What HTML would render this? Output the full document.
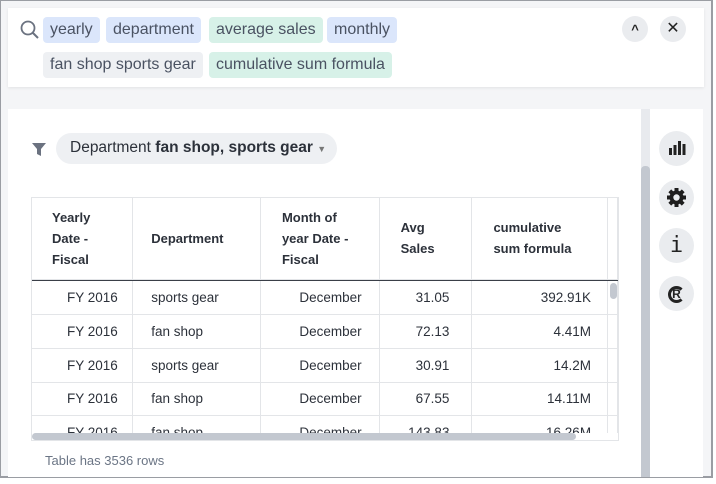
<!DOCTYPE html>
<html><head><style>
*{box-sizing:border-box;margin:0;padding:0}
body{width:716px;height:484px;background:#fff;font-family:"Liberation Sans",sans-serif;position:relative;overflow:hidden}
.frame{position:absolute;left:0;top:0;width:713px;height:478px;background:#f4f5f7;border:1px solid #9a9da3;border-right-width:2px;border-bottom-width:2px}
.abs{position:absolute}
.chip{position:absolute;height:26px;line-height:26px;padding:0 7px;border-radius:4px;font-size:16px;color:#4a5262}
.blue{background:#dbe6fb}.green{background:#d7f1e8}.gray{background:#eef0f3}
.circ{position:absolute;border-radius:50%;background:#eaecef}
table{border-collapse:collapse;font-size:13.5px;color:#2c313a}
td{border-right:1px solid #e3e5e8;border-bottom:1px solid #e3e5e8;height:33.7px;padding:0 12px}
</style></head><body>
<div class="frame"></div>
<div class="abs" style="left:8px;top:8px;width:696px;height:79px;background:#fff;box-shadow:0 1px 3px rgba(0,0,0,.08)"></div>
<svg class="abs" style="left:20px;top:20px" width="20" height="20"><circle cx="8" cy="8" r="6.5" fill="none" stroke="#6b7280" stroke-width="1.8"/><line x1="13" y1="13" x2="18" y2="18" stroke="#6b7280" stroke-width="2"/></svg>
<div class="chip blue" style="left:43px;top:17px">yearly</div>
<div class="chip blue" style="left:106px;top:17px">department</div>
<div class="chip green" style="left:209px;top:17px">average sales</div>
<div class="chip blue" style="left:327px;top:17px">monthly</div>
<div class="chip gray" style="left:43px;top:52px">fan shop sports gear</div>
<div class="chip green" style="left:209px;top:52px">cumulative sum formula</div>
<div class="circ" style="left:622px;top:16px;width:26px;height:26px;text-align:center;line-height:28px;font-size:13px;font-weight:bold;color:#222">^</div>
<div class="circ" style="left:660px;top:16px;width:26px;height:26px;text-align:center;line-height:25px;font-size:16px;color:#222">✕</div>
<div class="abs" style="left:8px;top:109px;width:633px;height:368px;background:#fff"></div>
<div class="abs" style="left:641px;top:109px;width:9px;height:368px;background:#e8eaee"></div>
<div class="abs" style="left:641px;top:166px;width:9px;height:311px;background:#c3c8d0;border-radius:4px 4px 0 0"></div>
<div class="abs" style="left:650px;top:109px;width:53px;height:368px;background:#fff"></div>
<div class="circ" style="left:659px;top:131px;width:35px;height:35px"></div>
<svg class="abs" style="left:668px;top:139px" width="18" height="18"><rect x="1" y="9" width="3" height="7" fill="#222"/><rect x="5.5" y="6" width="3" height="10" fill="#222"/><rect x="10" y="2" width="3" height="14" fill="#222"/><rect x="14.5" y="5" width="3" height="11" fill="#222"/></svg>
<div class="circ" style="left:659px;top:180px;width:35px;height:35px"></div>
<svg class="abs" style="left:666px;top:187px" width="21" height="21" viewBox="0 0 21 21"><g fill="#1e1e1e"><circle cx="10.5" cy="10.5" r="7"/><rect x="8.5" y="1" width="4" height="19"/><rect x="1" y="8.5" width="19" height="4"/><rect x="8.5" y="1" width="4" height="19" transform="rotate(45 10.5 10.5)"/><rect x="8.5" y="1" width="4" height="19" transform="rotate(-45 10.5 10.5)"/></g><circle cx="10.5" cy="10.5" r="3.2" fill="#eaecef"/></svg>
<div class="circ" style="left:659px;top:228px;width:35px;height:35px;text-align:center;line-height:35px;font-size:22px;color:#222;font-family:'DejaVu Sans Mono',monospace">i</div>
<div class="circ" style="left:659px;top:276px;width:35px;height:35px;text-align:center;line-height:35px;font-size:15px;font-weight:bold;color:#222"><span style="display:inline-block;width:17px;height:17px;border:3px solid #222;border-right-color:transparent;border-radius:50%;line-height:11px;font-size:12px;vertical-align:middle">R</span></div>
<svg class="abs" style="left:31px;top:142px" width="16" height="16"><path d="M1 1H15L10 7V14L6 12V7Z" fill="#6b7280"/></svg>
<div class="abs" style="left:56px;top:133px;width:281px;height:31px;border-radius:16px;background:#eef0f3;font-size:15.5px;line-height:29px;padding-left:14px;color:#2c313a">Department <b>fan shop, sports gear</b> <span style="font-size:9px;color:#777">▼</span></div>
<div class="abs" style="left:31px;top:197px;width:588px;height:244px;overflow:hidden;border:1px solid #e3e5e8">
<table>
<tr style="font-weight:bold;font-size:13px;line-height:21px">
<td style="width:101px;height:81px;padding-left:20px">Yearly<br>Date -<br>Fiscal</td>
<td style="width:128px;padding-left:18px">Department</td>
<td style="width:119px;padding-left:21px">Month of<br>year Date -<br>Fiscal</td>
<td style="width:93px;padding-left:21px">Avg<br>Sales</td>
<td style="width:136px;padding-left:21px">cumulative<br>sum formula</td>
<td style="width:10px;padding:0"></td>
</tr>
<tr><td colspan="6" style="height:2px;padding:0;background:#3a3f48;border:0"></td></tr>
<tr><td style="padding-left:35px">FY 2016</td><td style="padding-left:18px">sports gear</td><td style="text-align:right;padding-right:17px">December</td><td style="text-align:right;padding-right:22px">31.05</td><td style="text-align:right;padding-right:16px">392.91K</td><td style="padding:0"></td></tr>
<tr><td style="padding-left:35px">FY 2016</td><td style="padding-left:18px">fan shop</td><td style="text-align:right;padding-right:17px">December</td><td style="text-align:right;padding-right:22px">72.13</td><td style="text-align:right;padding-right:16px">4.41M</td><td style="padding:0"></td></tr>
<tr><td style="padding-left:35px">FY 2016</td><td style="padding-left:18px">sports gear</td><td style="text-align:right;padding-right:17px">December</td><td style="text-align:right;padding-right:22px">30.91</td><td style="text-align:right;padding-right:16px">14.2M</td><td style="padding:0"></td></tr>
<tr><td style="padding-left:35px">FY 2016</td><td style="padding-left:18px">fan shop</td><td style="text-align:right;padding-right:17px">December</td><td style="text-align:right;padding-right:22px">67.55</td><td style="text-align:right;padding-right:16px">14.11M</td><td style="padding:0"></td></tr>
<tr><td style="padding-left:35px">FY 2016</td><td style="padding-left:18px">fan shop</td><td style="text-align:right;padding-right:17px">December</td><td style="text-align:right;padding-right:22px">143.83</td><td style="text-align:right;padding-right:16px">16.26M</td><td style="padding:0"></td></tr>
</table>
<div class="abs" style="left:0;top:235px;width:588px;height:9px;background:#fff"></div>
<div class="abs" style="left:0;top:235px;width:544px;height:7px;background:#c3c8d0;border-radius:4px"></div>
<div class="abs" style="left:578px;top:85px;width:7px;height:16px;background:#c3c8d0;border-radius:4px"></div>
</div>
<div class="abs" style="left:45px;top:453px;font-size:13px;color:#6b7585">Table has 3536 rows</div>
</body></html>
